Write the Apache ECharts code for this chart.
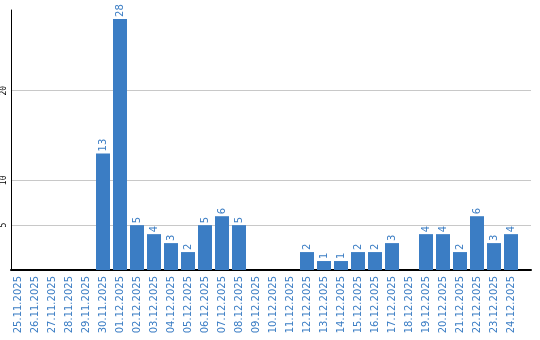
<!DOCTYPE html>
<html><head><meta charset="utf-8">
<script src="https://cdn.jsdelivr.net/npm/echarts@6/dist/echarts.min.js"></script>
<style>html,body{margin:0;padding:0;background:#fff}#c{width:540px;height:340px}</style>
</head><body><div id="c"></div>
<script>
const categories = ['25.11.2025','26.11.2025','27.11.2025','28.11.2025','29.11.2025','30.11.2025','01.12.2025','02.12.2025','03.12.2025','04.12.2025','05.12.2025','06.12.2025','07.12.2025','08.12.2025','09.12.2025','10.12.2025','11.12.2025','12.12.2025','13.12.2025','14.12.2025','15.12.2025','16.12.2025','17.12.2025','18.12.2025','19.12.2025','20.12.2025','21.12.2025','22.12.2025','23.12.2025','24.12.2025'];
const values = [0,0,0,0,0,13,28,5,4,3,2,5,6,5,0,0,0,2,1,1,2,2,3,0,4,4,2,6,3,4];
const yTickLabels = [5,10,20];
const blue = '#3b7dc4';
const chart = echarts.init(document.getElementById('c'));
const T = 'rgba(0,0,0,0)', G = '#c8c8c8';
chart.setOption({
  animation:false,
  grid:[{left:10,top:10,width:521,bottom:70,containLabel:false},
        {left:9.5,top:10,width:510,bottom:70,containLabel:false}],
  xAxis:[{type:'value',gridIndex:0,min:0,max:1,
      axisLine:{show:true,lineStyle:{color:'#000',width:2}},
      axisTick:{show:false},axisLabel:{show:false},splitLine:{show:false}},
    {type:'category',gridIndex:1,data:categories,
      axisLine:{show:false},
      axisTick:{show:false},
      axisLabel:{rotate:90,interval:0,color:blue,fontFamily:'DejaVu Sans',fontSize:10,margin:6}}],
  yAxis:[{type:'value',gridIndex:0,min:0,max:29,interval:5,
      axisLine:{show:true,lineStyle:{color:'#000',width:1}},
      axisTick:{show:false},
      splitLine:{show:true,lineStyle:{color:[T,G,G,T,G,T,T],width:1}},
      axisLabel:{rotate:90,color:'#000',fontFamily:'DejaVu Sans Mono',fontSize:8,margin:3,
        formatter:v=>yTickLabels.includes(v)?String(v):''}},
    {type:'value',gridIndex:1,min:0,max:29,show:false}],
  series:[{type:'bar',xAxisIndex:1,yAxisIndex:1,data:values,barWidth:14,itemStyle:{color:blue},
    label:{show:true,position:'top',rotate:90,align:'left',verticalAlign:'middle',distance:2,
      color:blue,fontFamily:'DejaVu Sans',fontSize:10,
      formatter:p=>p.value?String(p.value):''}}]
});
</script></body></html>
